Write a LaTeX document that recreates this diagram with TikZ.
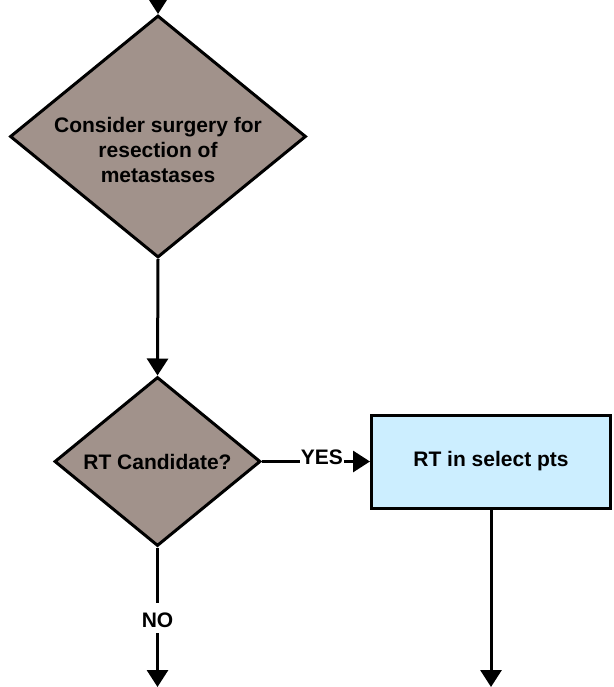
\documentclass[tikz,border=0pt]{standalone}
\usepackage{fontspec}
\setmainfont{Liberation Sans}
\usetikzlibrary{shapes.geometric,arrows.meta}
\definecolor{decfill}{HTML}{A1928B}
\definecolor{boxfill}{HTML}{CCEEFF}
\begin{document}
\begin{tikzpicture}[x=1pt,y=-1pt,
  font=\fontsize{21}{25}\selectfont\bfseries,
  decision/.style={diamond, draw=black, line width=3pt, fill=decfill, inner sep=0pt},
  procbox/.style={rectangle, draw=black, line width=3pt, fill=boxfill, inner sep=0pt},
  conn/.style={line width=3pt, -{Triangle[length=17pt,width=21pt]}},
  lbl/.style={fill=white, inner xsep=1pt}
]
\useasboundingbox (0,0) rectangle (613,687);
\node[decision, minimum width=296pt, minimum height=242pt] (d1) at (158,136.5) {};
\node[align=center] (t1) at (158,149.5) {Consider surgery for\\resection of\\metastases};
\node[decision, minimum width=206pt, minimum height=169pt] (d2) at (157.5,461.5) {};
\node (t2) at (157.5,462) {RT Candidate?};
\node[procbox, minimum width=239pt, minimum height=93pt] (b1) at (491,461.5) {RT in select pts};
\coordinate (top) at (158,-8);
\coordinate (endno) at (157.5,687);
\coordinate (endrt) at (491,687);
\draw[conn] (top) -- (d1.north);
\draw[conn] (d1.south) -- (d2.north);
\draw[conn] (d2.east) -- node[lbl, pos=0.554, yshift=4pt] {YES} (b1.west);
\draw[conn] (d2.south) -- node[lbl, pos=0.503, inner ysep=5pt, text height=20pt, text depth=0pt] {NO} (endno);
\draw[conn] (b1.south) -- (endrt);
\end{tikzpicture}
\end{document}
